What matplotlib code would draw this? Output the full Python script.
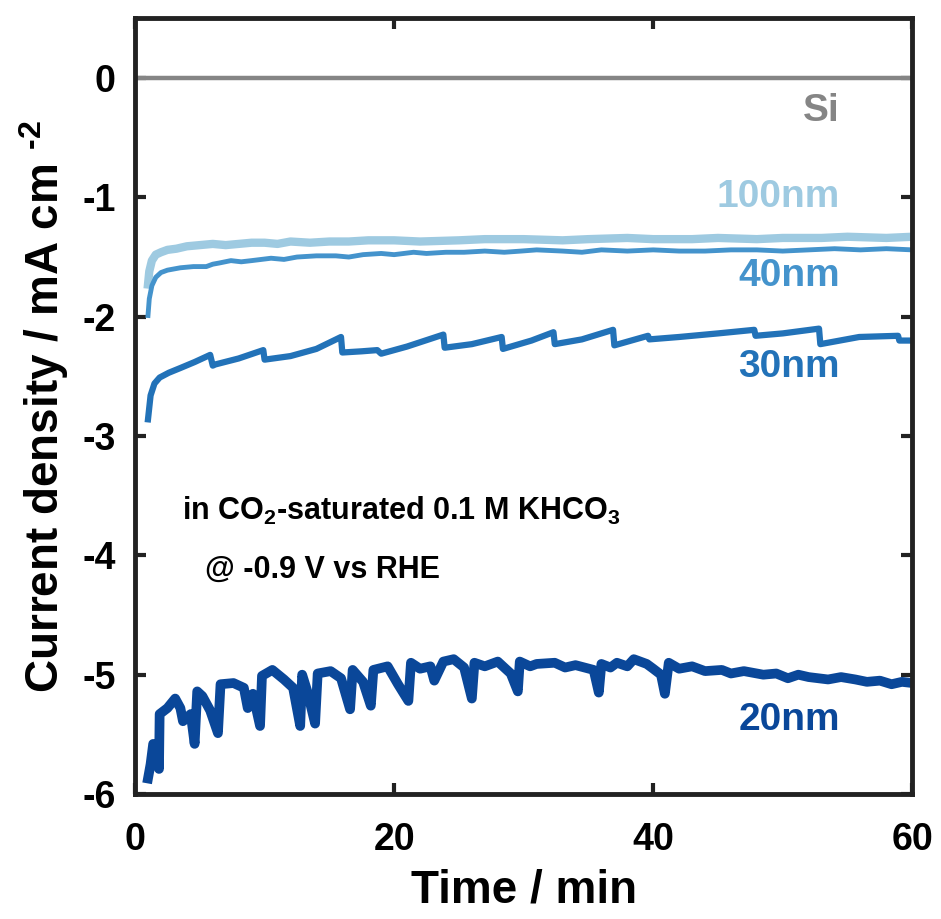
import matplotlib.pyplot as plt

plt.rcParams['font.family'] = ['Liberation Sans', 'DejaVu Sans']
plt.rcParams['font.weight'] = 'bold'
plt.rcParams['axes.labelweight'] = 'bold'
plt.rcParams['axes.unicode_minus'] = False
plt.rcParams['mathtext.fontset'] = 'custom'
plt.rcParams['mathtext.bf'] = 'Liberation Sans:bold'
plt.rcParams['mathtext.rm'] = 'Liberation Sans:bold'
plt.rcParams['mathtext.default'] = 'bf'

# Si reference (flat at zero)
t_si = [0, 60]
j_si = [0, 0]

# 100 nm
t_100 = [1.0, 1.1, 1.3, 1.6, 2.0, 2.5, 3.2, 4.0, 5.0, 6.0, 7.0, 8.0, 9.0, 10, 11, 12, 13.5, 15, 16.5, 18, 20, 22, 25,
         27, 30, 33, 35, 38, 40, 43, 45, 48, 50, 53, 55, 58, 60]
j_100 = [-1.73, -1.62, -1.53, -1.48, -1.46, -1.44, -1.43, -1.41, -1.40, -1.39, -1.40, -1.39, -1.38, -1.38, -1.39,
         -1.37, -1.38, -1.37, -1.37, -1.36, -1.36, -1.37, -1.36, -1.35, -1.35, -1.36, -1.35, -1.34, -1.35, -1.35,
         -1.34, -1.35, -1.34, -1.34, -1.33, -1.34, -1.33]

# 40 nm
t_40 = [1.0, 1.1, 1.3, 1.6, 2.0, 2.5, 3.5, 4.5, 5.5, 6.0, 6.5, 7.4, 8.2, 9.0, 10.5, 11.5, 12.5, 14, 15.5, 16.5, 17.6,
        19, 20, 21.5, 22.5, 24, 25.4, 27, 28.5, 29.8, 31, 33, 34.5, 36, 38, 40, 42, 44, 46, 48, 50, 52, 54, 56, 58, 60]
j_40 = [-1.99, -1.85, -1.74, -1.67, -1.63, -1.61, -1.59, -1.58, -1.58, -1.56, -1.55, -1.53, -1.54, -1.53, -1.51,
        -1.52, -1.50, -1.49, -1.49, -1.50, -1.48, -1.47, -1.48, -1.46, -1.47, -1.46, -1.46, -1.45, -1.46, -1.45,
        -1.44, -1.45, -1.46, -1.44, -1.45, -1.44, -1.45, -1.45, -1.44, -1.44, -1.45, -1.44, -1.43, -1.44, -1.43, -1.44]

# 30 nm
t_30 = [1.0, 1.2, 1.5, 1.9, 2.6, 3.5, 4.6, 5.8, 6.0, 6.2, 8.0, 9.9, 10.0, 12.0, 14.0, 15.9, 16.0, 17.5, 18.7, 19.0,
        21.0, 23.8, 23.9, 26.0, 28.3, 28.4, 30.6, 32.3, 32.4, 34.5, 36.9, 37.0, 39.6, 39.7, 42.0, 45.0, 47.8, 47.9,
        50.0, 52.8, 52.9, 55.9, 58.9, 59.0, 60.0]
j_30 = [-2.86, -2.66, -2.56, -2.51, -2.47, -2.43, -2.38, -2.32, -2.41, -2.40, -2.35, -2.28, -2.36, -2.33, -2.27, -2.17,
        -2.30, -2.29, -2.28, -2.31, -2.25, -2.15, -2.26, -2.23, -2.17, -2.27, -2.20, -2.13, -2.23, -2.19, -2.11, -2.24,
        -2.16, -2.19, -2.17, -2.14, -2.11, -2.16, -2.14, -2.10, -2.23, -2.17, -2.16, -2.20, -2.20]

# 20 nm
t_20 = [1.0, 1.2, 1.4, 1.7, 1.85, 1.9, 2.5, 3.1, 3.5, 3.7, 4.3, 4.6, 4.8, 5.2, 5.8, 6.4, 6.6, 7.6, 8.4, 8.7, 9.1,
        9.65, 9.8, 10.6, 11.5, 12.2, 12.75, 12.9, 13.3, 13.9, 14.1, 15.1, 15.9, 16.6, 16.8, 17.6, 18.2, 18.4, 19.5,
        20.3, 21.1, 21.3, 22.0, 22.8, 23.1, 23.8, 24.6, 25.4, 26.0, 26.2, 27.0, 28.0, 29.0, 29.55, 29.7, 30.5, 31.0,
        32.4, 33.2, 34.0, 35.4, 35.8, 36.0, 36.7, 37.2, 38.0, 38.5, 39.5, 40.0, 40.6, 40.9, 41.2, 42.0, 43.0, 44.0,
        45.3, 46.0, 47.0, 48.5, 49.5, 50.4, 51.2, 52.0, 53.5, 54.5, 55.6, 56.5, 57.5, 58.4, 59.2, 60.0]
j_20 = [-5.87, -5.75, -5.58, -5.60, -5.79, -5.33, -5.28, -5.20, -5.28, -5.39, -5.33, -5.58, -5.14, -5.18, -5.30, -5.49,
        -5.08, -5.07, -5.11, -5.28, -5.16, -5.43, -5.01, -4.96, -5.04, -5.11, -5.43, -5.00, -5.14, -5.41, -4.99, -4.97,
        -5.03, -5.29, -4.96, -5.06, -5.26, -4.96, -4.93, -5.08, -5.22, -4.90, -4.95, -4.93, -5.05, -4.89, -4.87, -4.94,
        -5.20, -4.90, -4.93, -4.89, -4.99, -5.14, -4.89, -4.93, -4.91, -4.90, -4.94, -4.92, -4.96, -5.15, -4.91, -4.94,
        -4.90, -4.93, -4.87, -4.91, -4.95, -5.00, -5.16, -4.90, -4.95, -4.93, -4.97, -4.96, -4.99, -4.97, -5.00, -4.99,
        -5.03, -5.00, -5.02, -5.04, -5.02, -5.04, -5.06, -5.05, -5.08, -5.06, -5.07]

c_si = '#858585'
c_100 = '#9ecae1'
c_40 = '#4493cc'
c_30 = '#2272b8'
c_20 = '#0a4799'

fig = plt.figure(figsize=(9.41, 9.19), dpi=100)
ax = fig.add_axes([0.1435, 0.136, 0.826, 0.844])

ax.plot(t_si, j_si, color=c_si, lw=3.2, solid_capstyle='butt')
ax.plot(t_100, j_100, color=c_100, lw=6)
ax.plot(t_40, j_40, color=c_40, lw=3.5)
ax.plot(t_30, j_30, color=c_30, lw=4.5)
ax.plot(t_20, j_20, color=c_20, lw=7)

fs = 28
ax.text(54.4, -0.28, 'Si', color=c_si, fontsize=fs, ha='right', va='center')
ax.text(54.4, -1.0, '100nm', color=c_100, fontsize=fs, ha='right', va='center')
ax.text(54.4, -1.66, '40nm', color=c_40, fontsize=fs, ha='right', va='center')
ax.text(54.4, -2.42, '30nm', color=c_30, fontsize=fs, ha='right', va='center')
ax.text(54.4, -5.38, '20nm', color=c_20, fontsize=fs, ha='right', va='center')

ax.text(3.6, -3.63, r'in CO$_2$-saturated 0.1 M KHCO$_3$', fontsize=22, ha='left', va='center')
ax.text(5.4, -4.12, '@ -0.9 V vs RHE', fontsize=22, ha='left', va='center')

ax.set_xlim(0, 60)
ax.set_ylim(-6, 0.5)
ax.set_xticks([0, 20, 40, 60])
ax.set_yticks([-6, -5, -4, -3, -2, -1, 0])
ax.tick_params(direction='in', length=8, width=3, labelsize=27, top=True, right=True, color='#222222')
ax.tick_params(axis='x', pad=20)
ax.tick_params(axis='y', pad=14)
for s in ax.spines.values():
    s.set_linewidth(3.5)
    s.set_color('#222222')

ax.set_xlabel('Time / min', fontsize=33, labelpad=8)
ax.set_ylabel(r'Current density / mA cm $^{\text{-2}}$', fontsize=33, labelpad=8)

fig.savefig('out.png', dpi=100)
